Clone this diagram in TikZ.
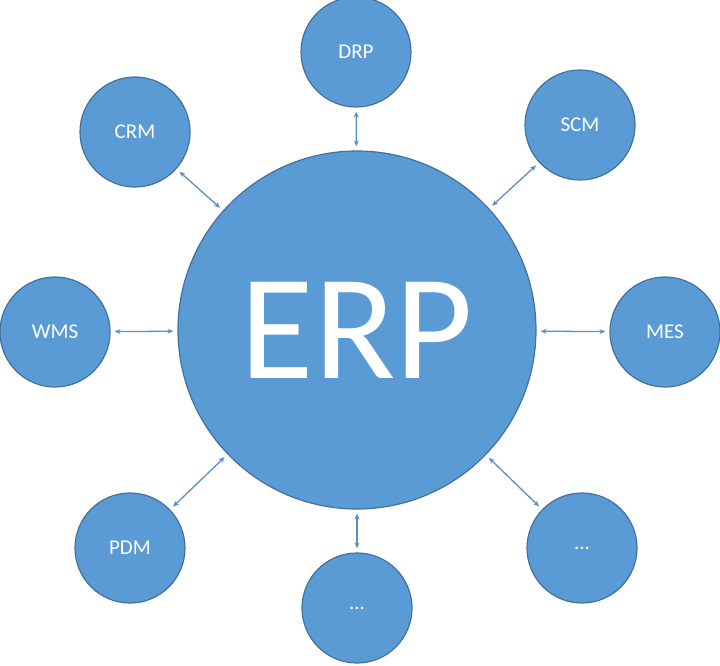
\documentclass[tikz,border=0pt]{standalone}
\usepackage{fontspec}
\setmainfont{Carlito}
\usetikzlibrary{arrows.meta}
\definecolor{fillb}{HTML}{5B9BD5}
\definecolor{edgeb}{HTML}{41719C}
\definecolor{arrb}{HTML}{5B8FC8}
\begin{document}
\begin{tikzpicture}[x=1pt,y=-1pt,
  sat/.style={circle,fill=fillb,draw=edgeb,line width=1.2pt,minimum size=110pt,inner sep=0pt,text=white,font=\fontsize{21}{21}\selectfont},
  con/.style={arrb,line width=1.3pt,{Stealth[length=6pt,width=5pt]}-{Stealth[length=6pt,width=5pt]},shorten >=4pt,shorten <=4pt}]
\useasboundingbox (0,0) rectangle (720,665);
\node[circle,fill=fillb,draw=edgeb,line width=1.2pt,minimum size=358pt,inner sep=0pt,text=white,font=\fontsize{150}{150}\selectfont] (erp) at (357,330) {ERP};
\node[sat] (drp) at (356,52) {DRP};
\node[sat] (crm) at (135,132) {CRM};
\node[sat] (scm) at (580,125) {SCM};
\node[sat] (wms) at (55,332) {WMS};
\node[sat] (mes) at (665,332) {MES};
\node[sat] (pdm) at (130,548) {PDM};
\node[sat] (b1) at (357,608) {...};
\node[sat] (b2) at (582,548) {...};
\foreach \n in {drp,crm,scm,wms,mes,pdm,b1,b2} \draw[con] (erp) -- (\n);
\end{tikzpicture}
\end{document}
